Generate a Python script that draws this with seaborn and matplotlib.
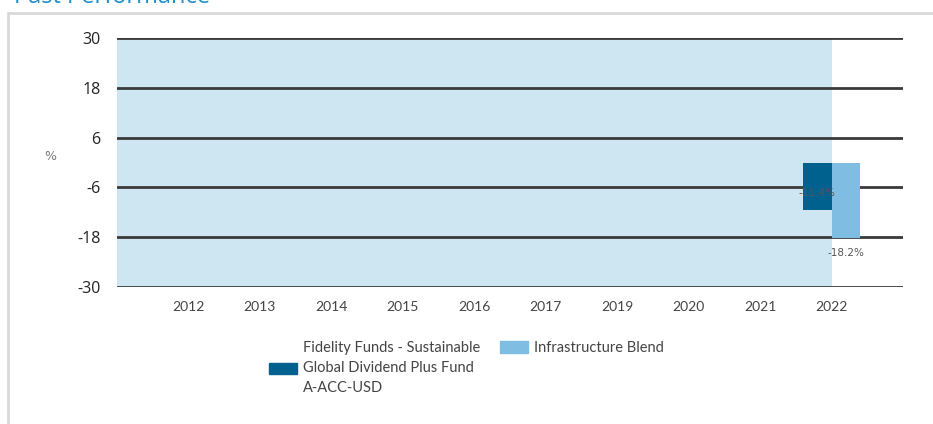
import pandas as pd
import numpy as np
import matplotlib.pyplot as plt
import seaborn as sns
from matplotlib.lines import Line2D

# chart data
years = ['2012', '2013', '2014', '2015', '2016', '2017', '2019', '2020', '2021', '2022']
fund_name = 'Fidelity Funds - Sustainable\nGlobal Dividend Plus Fund\nA-ACC-USD'
index_name = 'Infrastructure Blend'
fund_returns = [None, None, None, None, None, None, None, None, None, -11.4]
index_returns = [None, None, None, None, None, None, None, None, None, -18.2]
y_ticks = [-30, -18, -6, 6, 18, 30]
shade_until = '2022'

colors = {fund_name: '#00618f', index_name: '#80bde3'}

rows = []
for yr, f, b in zip(years, fund_returns, index_returns):
    rows.append({'year': yr, 'series': fund_name, 'ret': f})
    rows.append({'year': yr, 'series': index_name, 'ret': b})
df = pd.DataFrame(rows).dropna()

sns.set_theme(style='white')
plt.rcParams['font.family'] = ['Lato', 'DejaVu Sans']
plt.rcParams['axes.unicode_minus'] = False

fig = plt.figure(figsize=(9.33, 4.24), dpi=100)
ax = fig.add_axes([117 / 933, 1 - 287 / 424, 786 / 933, 249 / 424])

sns.barplot(data=df, x='year', y='ret', hue='series', order=years,
            hue_order=[fund_name, index_name], palette=colors,
            width=0.8, saturation=1, linewidth=0, ax=ax, legend=False, zorder=3)

ax.set_xlim(-1, len(years))
ax.set_ylim(y_ticks[0], y_ticks[-1])
ax.axvspan(-1, years.index(shade_until), color='#cee5f2', zorder=0, lw=0)
for t in y_ticks:
    ax.axhline(t, color='#3a3a3a', lw=2, zorder=2)

for c, kind in zip(ax.containers, ['center', 'edge']):
    anns = ax.bar_label(c, fmt='%.1f%%', label_type=kind, padding=7 if kind == 'edge' else 0,
                        fontsize=7.5, color='#555555', family='DejaVu Sans', zorder=5)
    if kind == 'center':
        for a in anns:
            a.xyann = (0, -5)

sns.despine(ax=ax, left=True, bottom=True)
ax.set_yticks(y_ticks)
ax.tick_params(axis='both', length=0)
ax.tick_params(axis='y', pad=12, labelsize=11.5, labelcolor='#222222')
ax.tick_params(axis='x', pad=10, labelsize=10, labelcolor='#444444')
for lab in ax.get_yticklabels():
    lab.set_family('Open Sans')
ax.set_xlabel('')
ax.set_ylabel('%', rotation=0, fontsize=9, color='#777777', family='DejaVu Sans')
ax.yaxis.set_label_coords(-0.085, 0.5)

# legends below the plot
for name, px in [(fund_name, 269), (index_name, 500)]:
    h = plt.Rectangle((0, 0), 1, 1, color=colors[name])
    leg = fig.legend([h], [name], loc='upper left',
                     bbox_to_anchor=(px / 933, 1 - 341 / 424),
                     frameon=False, fontsize=10.5, handlelength=1.9, handleheight=0.8,
                     handletextpad=0.45, borderpad=0, borderaxespad=0)
    for txt in leg.get_texts():
        txt.set_color('#444444')
        txt.set_linespacing(1.55)

# card border and cut-off heading
fig.add_artist(Line2D([8 / 933, 1], [1 - 13 / 424, 1 - 13 / 424], color='#d9d9d9', lw=2))
fig.add_artist(Line2D([8 / 933, 8 / 933], [0, 1 - 13 / 424], color='#d9d9d9', lw=2))
fig.text(14 / 933, 1 - 3 / 424, 'Past Performance', fontsize=17, color='#1f8ec9',
         va='baseline', family='Open Sans')

fig.savefig('out.png', dpi=100)
